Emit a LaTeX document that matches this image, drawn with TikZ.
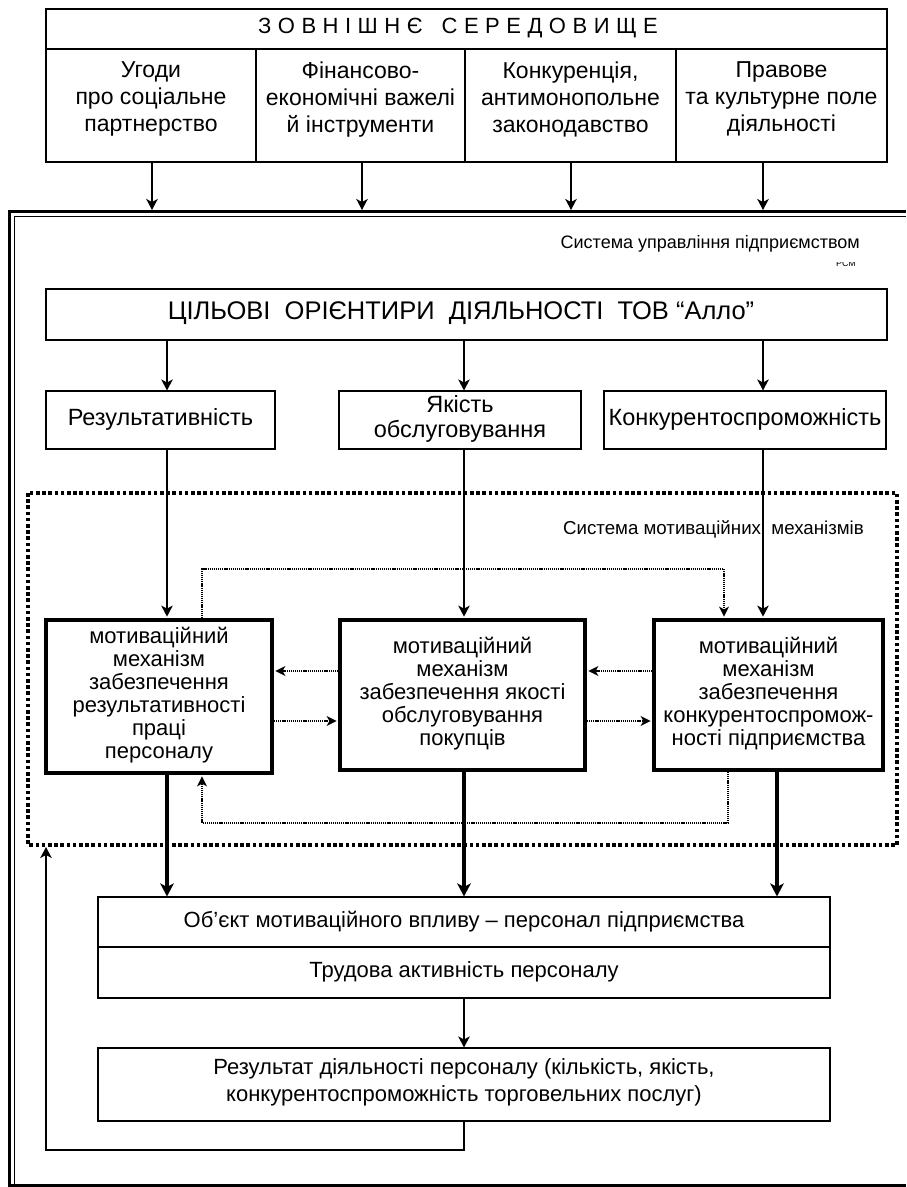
\documentclass[tikz,border=0pt]{standalone}
\usepackage{fontspec}
\setmainfont{Liberation Sans}
\usetikzlibrary{arrows.meta,calc}
\newcommand\lsk{\kern6.5pt}
\begin{document}
\begin{tikzpicture}[x=1pt,y=-1pt,
  box/.style={draw, line width=1.1pt, inner sep=0pt, align=center, font=\fontsize{22}{25}\selectfont},
  txt/.style={inner sep=0pt, align=center, execute at begin node=\strut, execute at end node=\strut},
  mbox/.style={draw, line width=3.8pt, inner sep=0pt, align=center, font=\fontsize{22}{23}\selectfont,
    execute at begin node=\strut, execute at end node=\strut},
  arr/.style={line width=1.4pt, -{Stealth[length=11pt,width=11.5pt,inset=3pt]}},
  tarr/.style={line width=4pt, -{Stealth[length=13pt,width=13.5pt,inset=3.5pt]}},
  darr/.style={line width=1.3pt, dash pattern=on 1.2pt off 0.9pt, -{Stealth[length=10pt,width=10pt,inset=2.8pt]}},
  dframe/.style={line width=3.6pt, dash pattern=on 3.6pt off 2.6pt},
  lbl/.style={anchor=east, inner sep=0pt, font=\fontsize{18}{20}\selectfont},
]
\useasboundingbox (0,0) rectangle (906,1187);

% outer double frame (system of management)
\draw[line width=3pt] (906,211) -- (9.5,211) -- (9.5,1185) -- (906,1185);
\draw[line width=1pt] (906,216) -- (14,216) -- (14,1185);

% external environment
\node[box, minimum width=841pt, minimum height=40pt] (env) at (466.5,29) {};
\node[txt, font=\fontsize{22}{24}\selectfont] (envt) at (458,29)
  {З\lsk О\lsk В\lsk Н\lsk І\lsk Ш\lsk Н\lsk Є\lsk\ \lsk С\lsk Е\lsk Р\lsk Е\lsk Д\lsk О\lsk В\lsk И\lsk Щ\lsk Е};
\node[box, minimum width=210pt, minimum height=113pt] (c1) at (151,105.5) {};
\node[box, minimum width=209pt, minimum height=113pt] (c2) at (360.5,105.5) {};
\node[box, minimum width=211pt, minimum height=113pt] (c3) at (570.5,105.5) {};
\node[box, minimum width=211pt, minimum height=113pt] (c4) at (781.5,105.5) {};
\node[txt, font=\fontsize{23}{27}\selectfont] (t1) at (151,101) {Угоди\\про соціальне\\партнерство};
\node[txt, font=\fontsize{23}{27}\selectfont] (t2) at (360.5,101) {Фінансово-\\економічні важелі\\й інструменти};
\node[txt, font=\fontsize{23}{27}\selectfont] (t3) at (570.5,101) {Конкуренція,\\антимонопольне\\законодавство};
\node[txt, font=\fontsize{23}{27}\selectfont] (t4) at (781.5,101) {Правове\\та культурне поле\\діяльності};

\coordinate (f1) at (152,210);
\coordinate (f2) at (362,210);
\coordinate (f3) at (571,210);
\coordinate (f4) at (763,210);
\draw[arr] (c1.south -| f1) -- (f1);
\draw[arr] (c2.south -| f2) -- (f2);
\draw[arr] (c3.south -| f3) -- (f3);
\draw[arr] (c4.south -| f4) -- (f4);

% labels
\node[lbl] (sysl) at (860,244) {Система управління підприємством};
\begin{scope}
  \clip (800,262) rectangle (880,272);
  \node[inner sep=0pt, font=\fontsize{9}{9}\selectfont] (pcm) at (846,263) {РСМ};
\end{scope}

% goals
\node[box, minimum width=841pt, minimum height=51pt] (goals) at (466.5,314.5) {};
\node[txt, font=\fontsize{25.5}{27}\selectfont] (goalst) at (461,314.5)
  {ЦІЛЬОВІ\ \ ОРІЄНТИРИ\ \ ДІЯЛЬНОСТІ\ \ ТОВ “Алло”};

\node[box, minimum width=229pt, minimum height=58pt] (r1) at (160.5,420) {};
\node[box, minimum width=242pt, minimum height=58pt] (r2) at (460,420) {};
\node[box, minimum width=282pt, minimum height=58pt] (r3) at (745,420) {};
\node[txt, font=\fontsize{23.5}{25}\selectfont] (r1t) at (r1.center) {Результативність};
\node[txt, font=\fontsize{23.5}{25}\selectfont] (r2t) at (r2.center) {Якість\\обслуговування};
\node[txt, font=\fontsize{23.5}{25}\selectfont] (r3t) at (r3.center) {Конкурентоспроможність};

\coordinate (xa) at (167,0);
\coordinate (xb) at (464,0);
\coordinate (xc) at (763,0);
\coordinate (xd) at (777,0);
\draw[arr] (goals.south -| xa) -- (r1.north -| xa);
\draw[arr] (goals.south -| xb) -- (r2.north -| xb);
\draw[arr] (goals.south -| xc) -- (r3.north -| xc);

% system of motivational mechanisms
\draw[dframe] (28,493) rectangle (897,845);
\node[lbl, font=\fontsize{18.7}{20}\selectfont] (mechl) at (864,529) {Система мотиваційних\ \ механізмів};

\node[mbox, minimum width=226pt, minimum height=153pt] (m1) at (159,696.5)
  {мотиваційний\\механізм\\забезпечення\\результативності\\праці\\персоналу};
\node[mbox, minimum width=245pt, minimum height=150pt] (m2) at (462.5,695)
  {мотиваційний\\механізм\\забезпечення якості\\обслуговування\\покупців};
\node[mbox, minimum width=229pt, minimum height=150pt] (m3) at (768.5,695)
  {мотиваційний\\механізм\\забезпечення\\конкурентоспромож-\\ності підприємства};

\draw[arr, shorten >=1.5pt] (r1.south -| xa) -- (m1.north -| xa);
\draw[arr, shorten >=1.5pt] (r2.south -| xb) -- (m2.north -| xb);
\draw[arr, shorten >=1.5pt] (r3.south -| xc) -- (m3.north -| xc);

% dotted links between mechanisms
\coordinate (dtl) at (202,569);
\coordinate (dtr) at (724,569);
\coordinate (dbl) at (202,823);
\coordinate (dbr) at (728,823);
\coordinate (hy1) at (0,671);
\coordinate (hy2) at (0,721);
\draw[darr, shorten >=1.5pt] (m1.north -| dtl) -- (dtl) -- (dtr) -- (m3.north -| dtr);
\draw[darr, shorten >=1.5pt] (m3.south -| dbr) -- (dbr) -- (dbl) -- (m1.south -| dbl);
\draw[darr, shorten >=1.5pt] (m2.west |- hy1) -- (m1.east |- hy1);
\draw[darr, shorten >=1.5pt] (m1.east |- hy2) -- (m2.west |- hy2);
\draw[darr, shorten >=1.5pt] (m3.west |- hy1) -- (m2.east |- hy1);
\draw[darr, shorten >=1.5pt] (m2.east |- hy2) -- (m3.west |- hy2);

% object of motivation
\node[box, minimum width=732pt, minimum height=50pt] (obj1) at (464,922) {};
\node[box, minimum width=732pt, minimum height=51pt] (obj2) at (464,972.5) {};
\node[txt, font=\fontsize{22}{25}\selectfont] (obj1t) at (obj1.center)
  {Об’єкт мотиваційного впливу – персонал підприємства};
\node[txt, font=\fontsize{22}{25}\selectfont] (obj2t) at (obj2.center)
  {Трудова активність персоналу};

\draw[tarr] (m1.south -| xa) -- (obj1.north -| xa);
\draw[tarr] (m2.south -| xb) -- (obj1.north -| xb);
\draw[tarr] (m3.south -| xd) -- (obj1.north -| xd);

% result
\node[box, minimum width=732pt, minimum height=73pt] (res) at (464,1084.5) {};
\node[txt, font=\fontsize{22}{27}\selectfont] (rest) at (res.center)
  {Результат діяльності персоналу (кількість, якість,\\конкурентоспроможність торговельних послуг)};
\draw[arr] (obj2.south -| xb) -- (res.north -| xb);

% feedback
\coordinate (fb1) at (464,1150);
\coordinate (fb2) at (46,1150);
\coordinate (fb3) at (46,847);
\draw[arr] (res.south -| fb1) -- (fb1) -- (fb2) -- (fb3);
\end{tikzpicture}
\end{document}
